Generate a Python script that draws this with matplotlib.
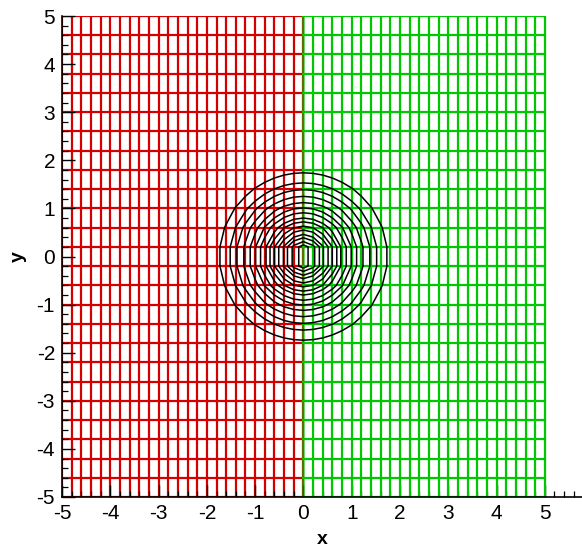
import numpy as np
import matplotlib
matplotlib.use("Agg")
import matplotlib.pyplot as plt
from matplotlib.ticker import MultipleLocator

# mesh nodes of the two blocks (x step 0.2, y step 0.4)
x_left = np.linspace(-5, 0, 26)
x_right = np.linspace(0, 5, 26)
y_nodes = np.linspace(-5, 5, 26)

# radii of the contour rings
ring_radii = [0.24, 0.31, 0.39, 0.46, 0.55, 0.63, 0.72, 0.80,
              0.91, 1.01, 1.12, 1.25, 1.39, 1.53, 1.74]

x_ticks = [-5, -4, -3, -2, -1, 0, 1, 2, 3, 4, 5]
y_ticks = [-5, -4, -3, -2, -1, 0, 1, 2, 3, 4, 5]

red = "#d40000"
green = "#00c800"

plt.rcParams['font.family'] = ['Liberation Sans', 'DejaVu Sans']

fig = plt.figure(figsize=(5.82, 5.48), dpi=100)
ax = fig.add_axes([62 / 582, 51 / 548, 520 / 582, 481 / 548])

# red block
XL, YL = np.meshgrid(x_left, y_nodes)
ax.plot(XL, YL, color=red, lw=1.6, zorder=1)
ax.plot(XL.T, YL.T, color=red, lw=1.6, zorder=1)

# green block (shared edge at x=0 blends with the red one)
XR, YR = np.meshgrid(x_right, y_nodes)
ax.plot(XR[:, 1:], YR[:, 1:], color=green, lw=1.6, zorder=2)
ax.plot(XR[:, :1], YR[:, :1], color=green, lw=2.0, alpha=0.6, zorder=2)
ax.plot(XR.T, YR.T, color=green, lw=1.6, zorder=2)

# contours computed on the full coarse mesh
x_all = np.concatenate([x_left, x_right[1:]])
XA, YA = np.meshgrid(x_all, y_nodes)
R = np.sqrt(XA ** 2 + YA ** 2)
ax.contour(XA, YA, R, levels=ring_radii, colors='black', linewidths=1.1, zorder=3)

ax.set_xlim(-5, 5.77)
ax.set_ylim(-5, 5)
ax.spines['top'].set_visible(False)
ax.spines['right'].set_visible(False)
for s in ('left', 'bottom'):
    ax.spines[s].set_linewidth(1.2)
    ax.spines[s].set_zorder(5)

ax.set_xticks(x_ticks)
ax.set_yticks(y_ticks)
ax.set_xticklabels([str(t) for t in x_ticks])
ax.set_yticklabels([str(t) for t in y_ticks])
ax.xaxis.set_minor_locator(MultipleLocator(0.2))
ax.yaxis.set_minor_locator(MultipleLocator(0.2))
ax.tick_params(which='major', direction='in', length=9, width=1.0,
               labelsize=15, pad=5, zorder=6)
ax.tick_params(which='minor', direction='in', length=4.5, width=0.9)

ax.set_xlabel('x', fontsize=14, fontweight='bold', labelpad=6)
ax.set_ylabel('y', fontsize=14, fontweight='bold', labelpad=7)

fig.savefig('out.png', dpi=100)
